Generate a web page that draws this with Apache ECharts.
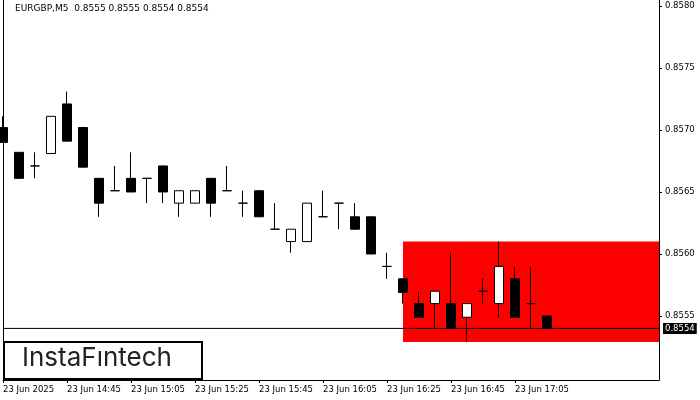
<!DOCTYPE html>
<html><head><meta charset="utf-8">
<script src="https://cdn.jsdelivr.net/npm/echarts@6/dist/echarts.min.js"></script>
<style>html,body{margin:0;padding:0;background:#fff}#c{width:700px;height:400px}</style>
</head><body><div id="c"></div>
<script>
// [open, close, low, high]
const candles = [
[0.85702,0.85690,0.85690,0.85711],
[0.85682,0.85661,0.85661,0.85682],
[0.85671,0.85671,0.85661,0.85682],
[0.85681,0.85711,0.85681,0.85711],
[0.85721,0.85691,0.85691,0.85731],
[0.85702,0.85670,0.85670,0.85702],
[0.85661,0.85641,0.85630,0.85661],
[0.85651,0.85651,0.85651,0.85671],
[0.85661,0.85650,0.85650,0.85682],
[0.85661,0.85661,0.85641,0.85661],
[0.85671,0.85650,0.85641,0.85671],
[0.85641,0.85651,0.85630,0.85651],
[0.85641,0.85651,0.85641,0.85651],
[0.85661,0.85641,0.85630,0.85661],
[0.85651,0.85651,0.85651,0.85671],
[0.85641,0.85641,0.85630,0.85651],
[0.85651,0.85630,0.85630,0.85651],
[0.85620,0.85620,0.85620,0.85641],
[0.85610,0.85620,0.85601,0.85620],
[0.85610,0.85641,0.85610,0.85641],
[0.85630,0.85630,0.85630,0.85651],
[0.85641,0.85641,0.85620,0.85641],
[0.85630,0.85620,0.85620,0.85641],
[0.85630,0.85600,0.85600,0.85630],
[0.85590,0.85590,0.85580,0.85601],
[0.85580,0.85569,0.85560,0.85580],
[0.85560,0.85549,0.85549,0.85569],
[0.85560,0.85570,0.85540,0.85570],
[0.85560,0.85540,0.85540,0.85601],
[0.85549,0.85560,0.85529,0.85560],
[0.85570,0.85570,0.85560,0.85580],
[0.85560,0.85590,0.85549,0.85610],
[0.85580,0.85549,0.85549,0.85590],
[0.85560,0.85560,0.85540,0.85590],
[0.85550,0.85540,0.85540,0.85550]
];
const totalSlots = 42;
const startMinutes = 14*60+25;
const categories = [];
for (let i=0;i<totalSlots;i++){const m=startMinutes+5*i;categories.push(String(Math.floor(m/60)).padStart(2,'0')+':'+String(m%60).padStart(2,'0'));}
const priceTicks = [0.8555,0.8560,0.8565,0.8570,0.8575,0.8580];
const currentPrice = 0.8554;
const priceLine = categories.map(()=>currentPrice);
const zoneTop = 0.85610, zoneBottom = 0.85529, zoneStart = 25;

const chart = echarts.init(document.getElementById('c'));
chart.setOption({
  animation:false,
  textStyle:{fontFamily:'DejaVu Sans'},
  grid:{left:3,width:656,top:0,bottom:20},
  xAxis:{type:'category',data:categories,boundaryGap:false,
    axisLine:{lineStyle:{color:'#000'}},
    axisTick:{show:true,interval:(i)=>i%4===0 && i<candles.length,length:3,lineStyle:{color:'#000'}},
    axisLabel:{interval:(i)=>i%4===0 && i<candles.length,color:'#000',fontSize:8.5,align:'left',margin:5,
      formatter:(v,i)=> i===0?'23 Jun 2025':'23 Jun '+v},
    splitLine:{show:false}},
  yAxis:[{type:'value',position:'right',min:0.854984,max:0.858048,offset:0,
    axisLine:{show:true,lineStyle:{color:'#000'}},
    axisTick:{show:true,customValues:priceTicks,length:3,lineStyle:{color:'#000'}},
    axisLabel:{customValues:priceTicks,color:'#000',fontSize:8.5,margin:6,formatter:v=>v.toFixed(4)},
    splitLine:{show:false}},
   {type:'value',position:'left',min:0,max:1,
    axisLine:{show:true,lineStyle:{color:'#000'}},axisTick:{show:false},axisLabel:{show:false},splitLine:{show:false}}],
  series:[{type:'candlestick',data:candles,barWidth:10,clip:true,
    itemStyle:{color:'#fff',color0:'#000',borderColor:'#000',borderColor0:'#000',borderWidth:1},
    markArea:{silent:true,itemStyle:{color:'#ff0000'},
      data:[[{xAxis:zoneStart,yAxis:zoneTop},{xAxis:totalSlots-1,yAxis:zoneBottom}]]},
    z:3},
   {type:'line',data:priceLine,z:5,symbol:'none',silent:true,
    lineStyle:{color:'#000',width:1},
    endLabel:{show:true,formatter:currentPrice.toFixed(4),backgroundColor:'#000',color:'#fff',fontSize:8.5,padding:[1,2],distance:4}}],
  graphic:[
    {type:'text',left:15,top:4,style:{text:'EURGBP,M5  0.8555 0.8555 0.8554 0.8554',fontSize:9,fill:'#000',fontFamily:'DejaVu Sans'}},
    {type:'rect',left:3,top:341,shape:{width:198,height:37},style:{fill:'#fff',stroke:'#000',lineWidth:2},z:10},
    {type:'text',left:22,top:345,style:{text:'InstaFıntech',fontSize:26,fill:'#222',fontFamily:'Inter'},z:11}
  ]
});
</script></body></html>
